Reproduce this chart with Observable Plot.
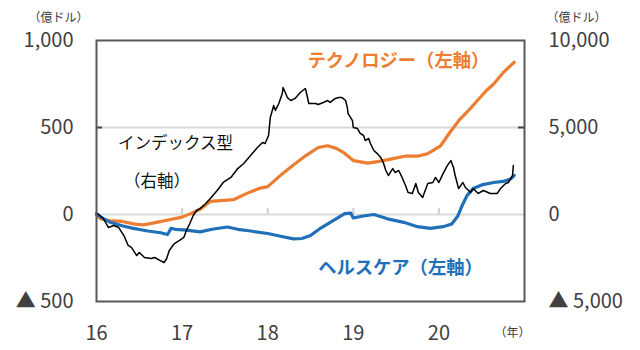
<!DOCTYPE html>
<html>
<head>
<meta charset="utf-8">
<script src="https://cdn.jsdelivr.net/npm/d3@7"></script>
<script src="https://cdn.jsdelivr.net/npm/@observablehq/plot@0.6"></script>
<style>
  html, body { margin: 0; padding: 0; background: #fff; }
  svg { display: block; }
</style>
</head>
<body>
<div id="chart"></div>
<script>
// x = decimal year (16 = Jan 2016), values in 億ドル
const techSeries = [
  [16.00,-5],[16.05,-25],[16.15,-35],[16.30,-40],[16.45,-55],[16.55,-60],[16.70,-45],[16.85,-30],
  [17.00,-15],[17.10,5],[17.21,30],[17.33,75],[17.45,80],[17.60,85],[17.75,120],[17.90,150],
  [18.00,160],[18.15,225],[18.30,285],[18.45,340],[18.59,385],[18.70,395],[18.80,380],[18.89,355],
  [19.00,310],[19.17,295],[19.30,305],[19.45,320],[19.60,335],[19.75,335],[19.87,350],[20.02,395],
  [20.14,480],[20.25,550],[20.35,600],[20.45,655],[20.55,710],[20.64,750],[20.75,815],[20.88,875]
];
const healthSeries = [
  [16.00,5],[16.05,-15],[16.16,-45],[16.30,-65],[16.43,-80],[16.60,-95],[16.75,-105],[16.83,-115],
  [16.87,-80],[16.92,-85],[17.05,-90],[17.21,-100],[17.35,-85],[17.53,-72],[17.65,-85],[17.80,-95],
  [18.00,-109],[18.15,-125],[18.30,-140],[18.40,-138],[18.50,-121],[18.62,-78],[18.75,-40],[18.90,5],
  [18.97,8],[19.00,-20],[19.10,-10],[19.24,0],[19.40,-25],[19.59,-45],[19.75,-70],[19.90,-80],
  [20.05,-70],[20.15,-55],[20.22,-10],[20.27,50],[20.33,110],[20.40,149],[20.50,170],[20.64,184],
  [20.75,190],[20.84,205],[20.88,225]
];
const indexSeries = [
  [16.00,100],[16.08,-230],[16.14,-750],[16.20,-630],[16.26,-750],[16.32,-1210],[16.37,-1780],[16.41,-1900],
  [16.47,-2360],[16.50,-2180],[16.56,-2470],[16.64,-2530],[16.68,-2470],[16.74,-2640],[16.79,-2760],[16.82,-2530],
  [16.85,-2070],[16.91,-1670],[16.97,-1490],[17.02,-1320],[17.05,-920],[17.09,-520],[17.13,-60],[17.17,230],
  [17.21,340],[17.27,600],[17.33,920],[17.41,1380],[17.48,1840],[17.57,2130],[17.65,2640],[17.72,2930],
  [17.80,3390],[17.88,3850],[17.94,4140],[17.97,4080],[18.01,4540],[18.03,5570],[18.07,6260],[18.09,5980],
  [18.13,6380],[18.17,6950],[18.18,7300],[18.23,6720],[18.27,6550],[18.32,6670],[18.38,7010],[18.44,7240],
  [18.46,6840],[18.48,6380],[18.56,6380],[18.59,6320],[18.65,6440],[18.70,6550],[18.73,6440],[18.79,6670],
  [18.83,6720],[18.87,6720],[18.91,6550],[18.93,6150],[18.94,5800],[18.99,5400],[19.00,5000],[19.05,4940],
  [19.08,4660],[19.12,4540],[19.14,4250],[19.18,4370],[19.20,4080],[19.24,3680],[19.28,3500],[19.32,3280],
  [19.35,2990],[19.38,2530],[19.41,2240],[19.46,2640],[19.49,2410],[19.53,2530],[19.57,2130],[19.61,1670],
  [19.64,1260],[19.69,1210],[19.73,1780],[19.76,1260],[19.81,980],[19.87,1780],[19.93,1840],[19.96,2130],
  [20.00,1840],[20.05,2360],[20.10,2820],[20.14,3100],[20.17,2700],[20.19,2240],[20.23,1490],[20.28,1840],
  [20.31,1550],[20.37,1260],[20.40,1490],[20.46,1210],[20.52,1380],[20.60,1210],[20.68,1210],[20.72,1490],
  [20.78,1780],[20.81,1840],[20.86,2240],[20.87,2820]
];
const xTickLabels = [16, 17, 18, 19, 20];
const leftTicks = [-500, 0, 500, 1000];
const gridValues = [0, 500];
const rightRatio = 10; // right axis = left axis × 10

const labels = [
  {text: "テクノロジー（左軸）", x: 18.465, y: 879, color: "#ED7D31", weight: "bold", size: 18.3},
  {text: "ヘルスケア（左軸）", x: 18.59, y: -310, color: "#1F70B8", weight: "bold", size: 18.3},
  {text: "インデックス型", x: 16.25, y: 408, color: "#111", weight: "normal", size: 16.5},
  {text: "（右軸）", x: 16.32, y: 190, color: "#111", weight: "normal", size: 16.5}
];

const fmt = d3.format(",");
const signed = v => v < 0 ? "▲ " + fmt(-v) : fmt(v);
const toObj = s => s.map(([x, y]) => ({x, y}));
const font = "'Noto Sans CJK JP', 'Noto Sans', sans-serif";
const zeroTickLen = 35; // length of small ticks on the zero line, in left-axis units

const chart = Plot.plot({
  width: 640,
  height: 350,
  marginLeft: 96,
  marginRight: 116,
  marginTop: 40,
  marginBottom: 49,
  style: {fontFamily: font, background: "#fff"},
  x: {domain: [16, 21], axis: null},
  y: {domain: [-500, 1000], axis: null},
  marks: [
    Plot.ruleY(gridValues, {stroke: "#d9d9d9", strokeWidth: 2}),
    Plot.ruleX(xTickLabels.slice(1), {y1: 0, y2: zeroTickLen, stroke: "#d0d0d0", strokeWidth: 2}),
    Plot.ruleY([500], {x1: 16, x2: 16, insetRight: -6, stroke: "#404040", strokeWidth: 2}),
    Plot.ruleY([500], {x1: 21, x2: 21, insetLeft: -6, stroke: "#404040", strokeWidth: 2}),
    Plot.line(toObj(techSeries), {x: "x", y: "y", stroke: "#ED7D31", strokeWidth: 3.2, strokeLinejoin: "round"}),
    Plot.line(toObj(healthSeries), {x: "x", y: "y", stroke: "#1F70B8", strokeWidth: 3.2, strokeLinejoin: "round"}),
    Plot.line(toObj(indexSeries), {x: "x", y: d => d.y / rightRatio, stroke: "#000", strokeWidth: 1.5, strokeLinejoin: "round"}),
    Plot.frame({stroke: "#595959", strokeWidth: 2}),
    Plot.axisY({ticks: leftTicks, tickSize: 0, tickPadding: 23, tickFormat: signed, fontSize: 20, color: "#404040", label: null}),
    Plot.axisY({anchor: "right", ticks: leftTicks, tickSize: 0, tickPadding: 24, tickFormat: d => signed(d * rightRatio), fontSize: 20, color: "#404040", label: null}),
    Plot.axisX({ticks: xTickLabels, tickSize: 0, tickPadding: 24, tickFormat: d => String(d), fontSize: 20, color: "#404040", label: null}),
    ...labels.map(l => Plot.text([l], {x: "x", y: "y", text: "text", fill: l.color, fontWeight: l.weight, fontSize: l.size, textAnchor: "start"})),
    Plot.text(["（億ドル）"], {frameAnchor: "top-left", textAnchor: "middle", dx: -38, dy: -27, fontSize: 12, fill: "#404040"}),
    Plot.text(["（億ドル）"], {frameAnchor: "top-right", textAnchor: "middle", dx: 52, dy: -27, fontSize: 12, fill: "#404040"}),
    Plot.text(["（年）"], {frameAnchor: "bottom-right", textAnchor: "middle", dx: -12, dy: 35, fontSize: 12, fill: "#404040"})
  ]
});
document.getElementById("chart").appendChild(chart);
</script>
</body>
</html>
